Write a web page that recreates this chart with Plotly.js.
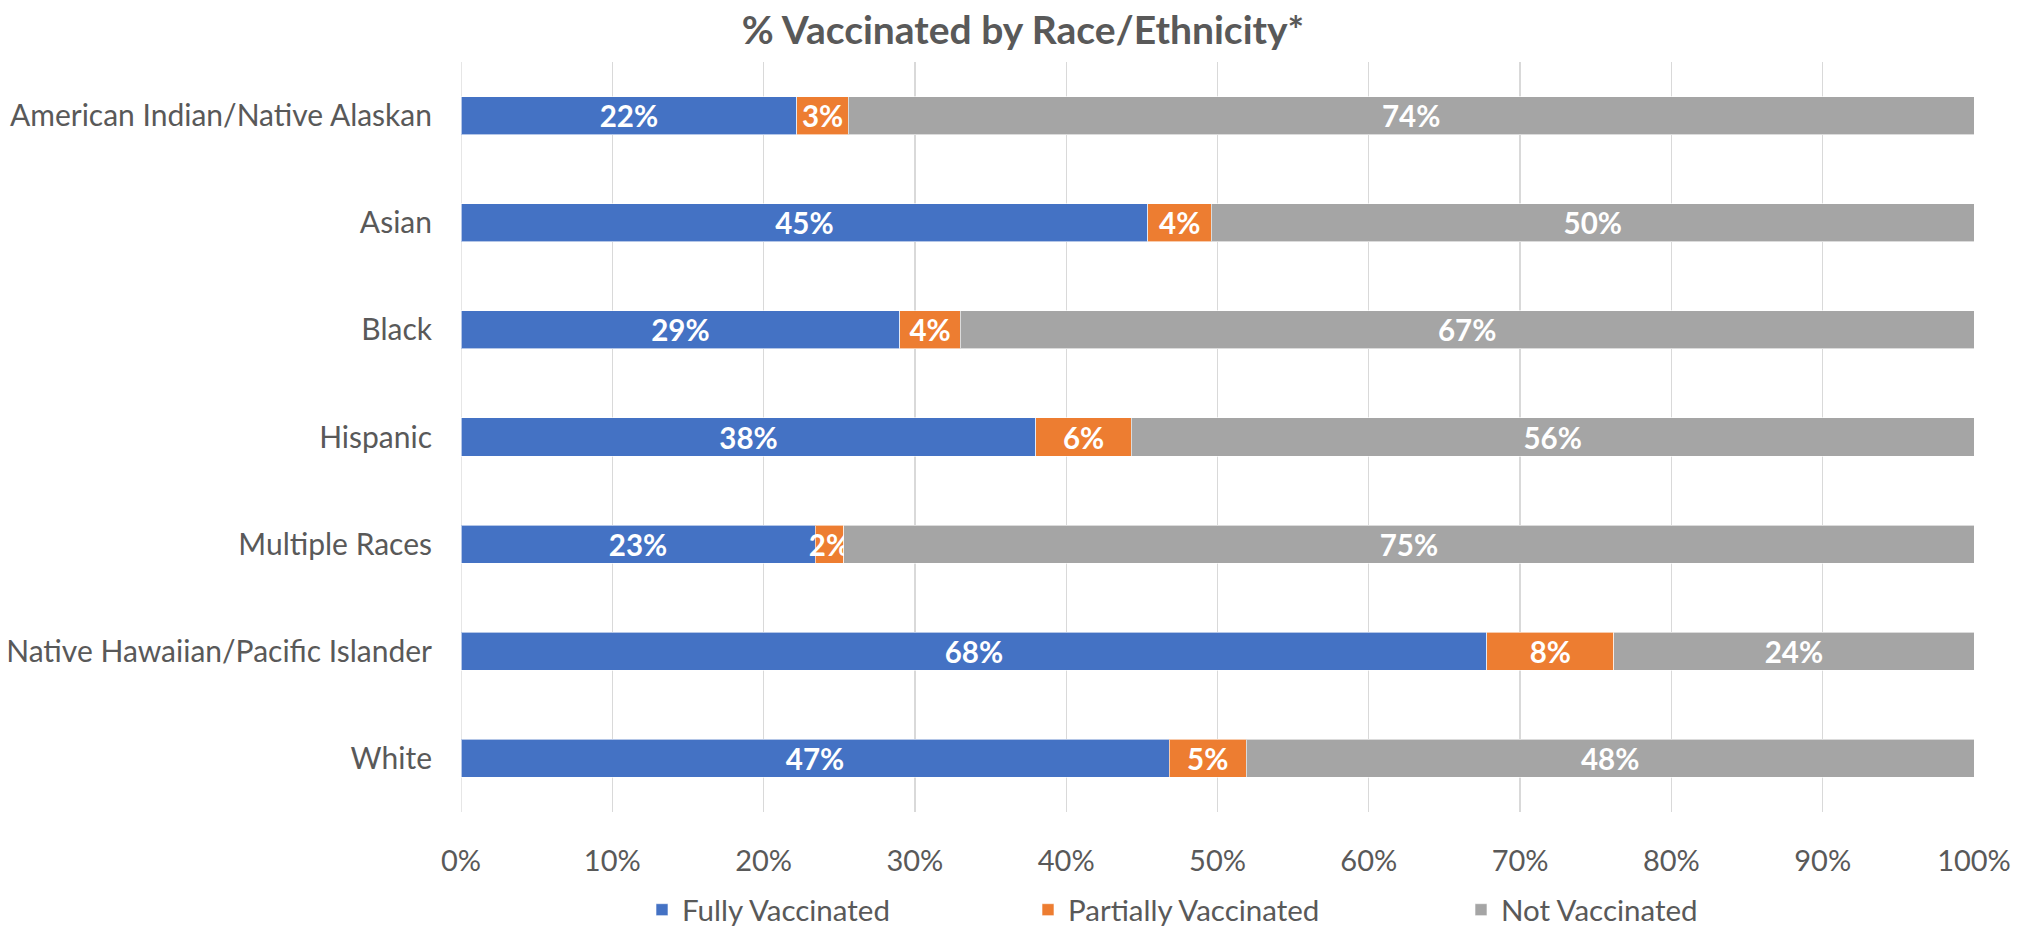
<!DOCTYPE html>
<html>
<head>
<meta charset="utf-8">
<script src="https://cdn.plot.ly/plotly-3.0.1.min.js"></script>
<style>html,body{margin:0;padding:0;background:#fff;}#chart{width:2026px;height:926px;}</style>
</head>
<body>
<div id="chart"></div>
<script>
const categories = [
  "American Indian/Native Alaskan",
  "Asian",
  "Black",
  "Hispanic",
  "Multiple Races",
  "Native Hawaiian/Pacific Islander",
  "White"
];
const fullyVaccinated     = [22.2, 45.4, 29.0, 38.0, 23.4, 67.8, 46.8];
const partiallyVaccinated = [3.4, 4.2, 4.0, 6.3, 1.9, 8.4, 5.1];
const notVaccinated       = [74.4, 50.4, 67.0, 55.7, 74.7, 23.8, 48.1];
const seriesNames = ["Fully Vaccinated", "Partially Vaccinated", "Not Vaccinated"];
const xTickVals = [0, 10, 20, 30, 40, 50, 60, 70, 80, 90, 100];

const FONT = "Lato, 'Open Sans', sans-serif";
const GREY_TEXT = "#595959";
const colors = ["#4472C4", "#ED7D31", "#A5A5A5"];
const series = [fullyVaccinated, partiallyVaccinated, notVaccinated];
const legendIds = ["legend", "legend2", "legend3"];

const traces = series.map((vals, i) => ({
  type: "bar",
  orientation: "h",
  name: seriesNames[i],
  y: categories,
  x: vals,
  marker: { color: colors[i], line: { color: "rgba(255,255,255,0.6)", width: 1 } },
  texttemplate: "%{x:.0f}%",
  textposition: "inside",
  insidetextanchor: "middle",
  textangle: 0,
  constraintext: "none",
  textfont: { family: FONT, size: 29.5, color: "#ffffff", weight: "bold" },
  hoverinfo: "skip",
  legend: legendIds[i]
}));

const legendBase = {
  orientation: "h",
  xref: "container", yref: "container",
  yanchor: "middle", xanchor: "left",
  y: 1 - 910 / 926,
  font: { family: FONT, size: 29.5, color: GREY_TEXT },
  bgcolor: "rgba(0,0,0,0)",
  itemwidth: 30
};

const layout = {
  width: 2026,
  height: 926,
  paper_bgcolor: "#ffffff",
  plot_bgcolor: "#ffffff",
  barmode: "stack",
  bargap: 0.645,
  margin: { l: 461, r: 52, t: 62, b: 114, pad: 0 },
  title: {
    text: "<b>% Vaccinated by Race/Ethnicity*</b>",
    font: { family: FONT, size: 39, color: GREY_TEXT },
    x: 1023 / 2026, xanchor: "center", xref: "container",
    y: 1 - 30 / 926, yanchor: "middle", yref: "container"
  },
  xaxis: {
    range: [0, 100],
    tickvals: xTickVals,
    ticktext: xTickVals.map(v => v + "%"),
    showgrid: true,
    gridcolor: "#D9D9D9",
    gridwidth: 1.3,
    zeroline: false,
    showline: false,
    ticks: "",
    ticklabelstandoff: 29,
    tickfont: { family: FONT, size: 29, color: GREY_TEXT },
    fixedrange: true
  },
  yaxis: {
    type: "category",
    categoryorder: "array",
    categoryarray: categories,
    autorange: "reversed",
    showgrid: false,
    zeroline: false,
    showline: false,
    ticks: "",
    ticklabelstandoff: 28,
    tickfont: { family: FONT, size: 30, color: GREY_TEXT },
    fixedrange: true
  },
  uniformtext: { mode: "show", minsize: 29.5 },
  showlegend: true,
  legend: Object.assign({}, legendBase, { x: 642 / 2026 }),
  legend2: Object.assign({}, legendBase, { x: 1028 / 2026 }),
  legend3: Object.assign({}, legendBase, { x: 1461 / 2026 }),
  shapes: [{
    type: "line", xref: "x", yref: "paper",
    x0: 0, x1: 0, y0: 0, y1: 1,
    line: { color: "#D9D9D9", width: 1.3 },
    layer: "below"
  }]
};

Plotly.newPlot("chart", traces, layout, { displayModeBar: false, staticPlot: true });
</script>
</body>
</html>
